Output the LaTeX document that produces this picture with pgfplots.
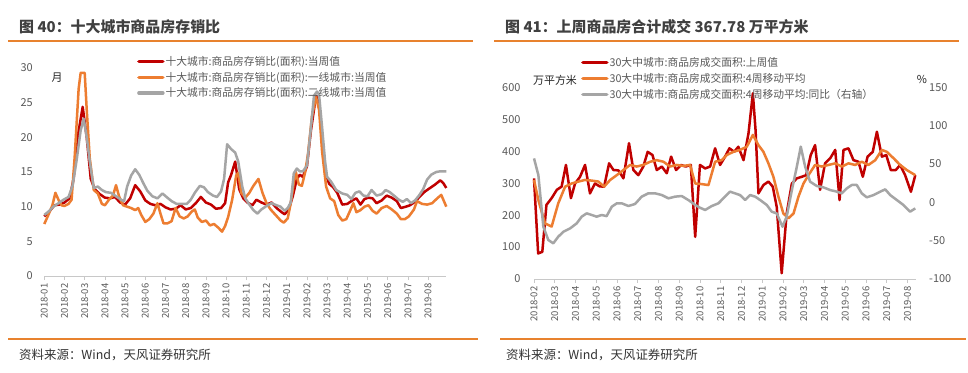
\documentclass[border=0pt]{standalone}
\usepackage{pgfplots}
\pgfplotsset{compat=1.18}
\usepackage{fontspec}
\setmainfont{Noto Sans CJK SC}
\definecolor{cred}{HTML}{C00000}
\definecolor{corange}{HTML}{ED7D31}
\definecolor{cgray}{HTML}{A5A5A5}
\definecolor{ctext}{HTML}{595959}
\definecolor{ctitle}{HTML}{404040}
\definecolor{cline}{HTML}{E8822E}
\definecolor{caxis}{HTML}{C8C8C8}
\pgfplotsset{
  base/.style={
    scale only axis, anchor=south west,
    axis x line*=bottom, axis y line*=left,
    y axis line style={draw=none},
    x axis line style={draw=caxis, line width=0.8bp},
    xtick style={draw=caxis, line width=0.8bp},
    ytick style={draw=none},
    major tick length=4bp, tick align=outside,
    x tick label style={rotate=90, anchor=east, font=\fontsize{9.5}{10}\selectfont, color=ctext},
    y tick label style={font=\fontsize{11}{11}\selectfont, color=ctext},
    /pgf/number format/assume math mode=true,
    /pgf/number format/1000 sep={},
    clip=false,
    legend cell align=left,
    legend style={draw=none, fill=none, inner sep=0pt, anchor=north west,
      font=\fontsize{10.8}{12}\selectfont, text=ctext, row sep=3.2bp,
      nodes={inner sep=1bp}},
    legend image code/.code={\draw[##1, line width=3.4bp, line cap=round] (0bp,0bp) -- (24bp,0bp);},
  },
  ser/.style={line width=2.5bp, line join=round, mark=none},
}
\begin{document}
\begin{tikzpicture}
\path[use as bounding box, fill=white] (0bp,0bp) rectangle (968bp,373bp);
% titles
\node[anchor=west, inner sep=0, text=ctitle, font=\fontsize{15}{15}\selectfont\bfseries] at (19bp,346bp) {图 40：十大城市商品房存销比};
\node[anchor=west, inner sep=0, text=ctitle, font=\fontsize{15}{15}\selectfont\bfseries] at (505bp,346bp) {图 41：上周商品房合计成交 367.78 万平方米};
\draw[cline, line width=2.2bp] (8bp,332bp) -- (473bp,332bp);
\draw[cline, line width=2.2bp] (494bp,332bp) -- (959bp,332bp);
\draw[cline, line width=2.2bp] (8bp,34bp) -- (478bp,34bp);
\draw[cline, line width=2.2bp] (500bp,34bp) -- (966bp,34bp);
\node[anchor=west, inner sep=0, text=black!80, font=\fontsize{12.5}{13}\selectfont] at (19bp,18bp) {资料来源：Wind，天风证券研究所};
\node[anchor=west, inner sep=0, text=black!80, font=\fontsize{12.5}{13}\selectfont] at (506bp,18bp) {资料来源：Wind，天风证券研究所};
% ---------------- left chart
\begin{axis}[base,
  at={(44.3bp,97bp)}, width=402bp, height=208bp,
  xmin=0, xmax=19.9, ymin=0, ymax=30,
  xtick={0,...,19},
  xticklabels={2018-01,2018-02,2018-03,2018-04,2018-05,2018-06,2018-07,2018-08,2018-09,2018-10,2018-11,2018-12,2019-01,2019-02,2019-03,2019-04,2019-05,2019-06,2019-07,2019-08},
  ytick={0,5,...,30},
  y tick label style={xshift=-4bp},
  legend style={at={(rel axis cs:0.2306,1.063)}},
]
\addplot[ser, cred] coordinates {(0,8.6) (0.25,9.3) (0.5,10.2) (0.75,10.3) (1.0,10.6) (1.25,11.2) (1.45,14) (1.65,20) (1.9,24.4) (2.1,20) (2.3,14) (2.5,12.5) (2.75,11.8) (3.0,11.3) (3.25,11.2) (3.5,11.4) (3.75,10.6) (4.0,10.3) (4.25,11.2) (4.5,13.1) (4.75,12.2) (5.0,10.9) (5.25,10.4) (5.5,10.2) (5.75,10.4) (6.0,9.9) (6.25,9.6) (6.5,9.7) (6.75,10.2) (7.0,9.6) (7.25,9.8) (7.5,10.5) (7.75,11.4) (8.0,10.6) (8.25,10.3) (8.5,9.7) (8.75,9.8) (8.95,10.5) (9.1,13.5) (9.25,14.6) (9.45,16.5) (9.65,12.5) (9.85,11.2) (10.05,10.6) (10.3,10.2) (10.5,11.0) (10.75,10.6) (11.0,10.3) (11.25,10.6) (11.5,9.8) (11.75,9.2) (11.9,8.9) (12.1,9.6) (12.3,11.5) (12.5,14) (12.65,14.6) (12.8,14.3) (13.0,15.8) (13.2,21) (13.45,26) (13.6,25) (13.75,20) (13.9,15) (14.1,13.3) (14.3,12.8) (14.5,12.0) (14.75,10.3) (15.0,10.4) (15.25,10.9) (15.45,11.2) (15.65,10.3) (15.85,11.1) (16.05,11.3) (16.25,11.2) (16.45,10.5) (16.7,10.9) (16.95,11.6) (17.2,11.3) (17.45,10.8) (17.65,9.8) (17.9,10.0) (18.1,10.2) (18.35,10.7) (18.6,11.5) (18.85,12.2) (19.1,12.7) (19.35,13.2) (19.6,13.8) (19.75,13.4) (19.9,12.7)};
\addlegendentry{十大城市:商品房存销比(面积):当周值}
\addplot[ser, corange] coordinates {(0,7.5) (0.2,8.8) (0.4,10.2) (0.55,12.0) (0.7,11.0) (0.85,10.2) (1.0,10.1) (1.2,10.4) (1.35,11) (1.5,17) (1.7,27) (1.8,29.3) (2.0,29.3) (2.1,24) (2.25,17) (2.45,12.4) (2.65,11.9) (2.85,10.4) (3.0,10.2) (3.2,11.0) (3.4,11.6) (3.55,13.1) (3.7,11.5) (3.9,10.2) (4.1,10.0) (4.3,9.8) (4.5,9.5) (4.65,9.8) (4.8,8.8) (5.0,7.8) (5.2,8.2) (5.4,9.0) (5.6,10.5) (5.75,9.0) (5.9,7.6) (6.1,7.6) (6.3,7.9) (6.5,9.8) (6.7,8.6) (6.9,8.3) (7.1,8.6) (7.3,9.3) (7.45,9.6) (7.6,8.4) (7.8,7.8) (8.0,8.0) (8.2,7.3) (8.4,7.5) (8.6,7.0) (8.8,6.4) (8.95,7.2) (9.1,8.5) (9.3,11.0) (9.5,14.5) (9.6,14.9) (9.75,12.0) (9.95,11.3) (10.15,12.0) (10.35,13.0) (10.6,14.0) (10.8,12.0) (11.0,10.5) (11.2,9.6) (11.45,8.8) (11.7,8.0) (11.85,7.7) (12.05,8.3) (12.2,10.5) (12.35,13.5) (12.45,15.0) (12.6,13.2) (12.75,13.0) (12.9,14.8) (13.05,17.5) (13.25,23) (13.45,25.8) (13.6,24) (13.75,18) (13.95,12.9) (14.15,11.2) (14.35,10.8) (14.55,8.8) (14.75,8.0) (14.95,8.2) (15.15,9.5) (15.3,10.5) (15.45,9.2) (15.65,9.5) (15.85,10.0) (16.05,10.2) (16.25,9.4) (16.45,9.0) (16.7,9.8) (16.95,10.1) (17.2,9.6) (17.45,9.0) (17.65,8.2) (17.85,8.2) (18.05,8.6) (18.3,9.6) (18.45,10.8) (18.7,10.4) (18.95,10.3) (19.2,10.5) (19.45,11.2) (19.65,11.7) (19.9,10.0)};
\addlegendentry{十大城市:商品房存销比(面积):一线城市:当周值}
\addplot[ser, cgray] coordinates {(0,8.8) (0.25,9.4) (0.45,10.0) (0.7,10.5) (0.95,11.0) (1.2,11.4) (1.4,13) (1.6,16.7) (1.8,21) (1.95,22.7) (2.1,20) (2.25,16.5) (2.45,12.7) (2.65,12.9) (2.85,12.4) (3.05,12.1) (3.3,12.0) (3.55,11.5) (3.8,11.0) (3.95,10.8) (4.1,12.9) (4.3,14.5) (4.5,15.4) (4.7,14.6) (4.9,13.4) (5.1,12.3) (5.35,11.5) (5.6,11.2) (5.85,11.9) (6.05,11.4) (6.3,10.8) (6.55,10.4) (6.8,10.4) (7.05,10.4) (7.25,11.0) (7.45,12.0) (7.7,13.0) (7.9,12.8) (8.1,12.1) (8.35,11.6) (8.55,11.4) (8.75,12.2) (8.9,14) (9.05,19.0) (9.25,18.3) (9.45,17.8) (9.6,16.5) (9.8,12.9) (9.95,11.2) (10.15,10.3) (10.35,9.5) (10.55,9.0) (10.75,9.6) (11.0,10.1) (11.25,10.5) (11.5,10.2) (11.7,10.0) (11.9,9.4) (12.05,9.8) (12.2,10.6) (12.35,14.8) (12.5,15.5) (12.65,15.1) (12.8,15.1) (13.0,15.9) (13.15,20) (13.35,26) (13.5,26.6) (13.6,26.2) (13.75,21.5) (13.9,16.5) (14.0,14.3) (14.2,13.6) (14.45,12.4) (14.75,11.9) (15.0,11.7) (15.2,11.1) (15.4,12.0) (15.6,12.2) (15.8,11.6) (16.0,11.5) (16.2,12.4) (16.45,11.6) (16.7,11.8) (16.9,12.4) (17.1,12.1) (17.35,11.5) (17.55,11.0) (17.75,10.7) (17.95,11.1) (18.15,10.5) (18.35,10.9) (18.55,11.6) (18.75,12.5) (18.95,13.9) (19.15,14.6) (19.4,15.0) (19.6,15.1) (19.9,15.1)};
\addlegendentry{十大城市:商品房存销比(面积):二线城市:当周值}
\end{axis}
\node[anchor=center, inner sep=0, text=black!85, font=\fontsize{11}{11}\selectfont] at (57bp,295.5bp) {月};
% ---------------- right chart
\begin{axis}[base,
  at={(534bp,94bp)}, width=381.7bp, height=191.7bp,
  xmin=0, xmax=18.4, ymin=0, ymax=600,
  xtick={0,...,18},
  xticklabels={2018-02,2018-03,2018-04,2018-05,2018-06,2018-07,2018-08,2018-09,2018-10,2018-11,2018-12,2019-01,2019-02,2019-03,2019-04,2019-05,2019-06,2019-07,2019-08},
  ytick={0,100,...,600},
  y tick label style={xshift=-6bp},
  legend style={at={(rel axis cs:0.123,1.162)}},
]
\addplot[ser, cred] coordinates {(0,315) (0.2,80) (0.4,85) (0.6,232) (0.85,253) (1.1,279) (1.33,289) (1.54,357) (1.78,253) (1.98,299) (2.22,320) (2.46,357) (2.7,268) (2.94,299) (3.16,290) (3.38,289) (3.62,362) (3.83,341) (4.07,340) (4.31,315) (4.58,425) (4.79,341) (5.03,325) (5.27,352) (5.48,398) (5.71,388) (5.92,341) (6.16,352) (6.4,331) (6.61,383) (6.85,341) (7.09,357) (7.31,352) (7.56,357) (7.77,132) (8.0,357) (8.25,346) (8.49,352) (8.73,409) (8.97,357) (9.21,383) (9.42,409) (9.65,398) (9.85,414) (10.1,372) (10.34,456) (10.55,581) (10.68,466) (10.82,268) (11.06,294) (11.3,305) (11.51,289) (11.7,226) (11.94,18) (12.18,205) (12.43,299) (12.67,315) (12.91,320) (13.12,325) (13.34,388) (13.55,419) (13.79,279) (14.03,362) (14.28,378) (14.52,404) (14.73,247) (14.92,404) (15.16,409) (15.4,372) (15.64,367) (15.85,320) (16.08,383) (16.33,398) (16.53,461) (16.77,383) (16.98,388) (17.2,341) (17.44,341) (17.65,357) (17.89,325) (18.17,273) (18.38,325)};
\addlegendentry{30大中城市:商品房成交面积:上周值}
\addplot[ser, corange] coordinates {(0,310) (0.21,247) (0.53,174) (0.85,164) (1.17,237) (1.5,289) (1.82,299) (2.14,305) (2.46,310) (2.78,308) (3.1,305) (3.38,289) (3.67,310) (3.99,325) (4.31,341) (4.63,357) (4.95,352) (5.27,357) (5.6,367) (5.92,372) (6.24,367) (6.56,352) (6.88,357) (7.2,354) (7.52,357) (7.77,299) (8.09,297) (8.41,294) (8.73,367) (9.05,372) (9.29,388) (9.61,398) (9.93,404) (10.26,414) (10.55,451) (10.82,419) (11.06,398) (11.3,362) (11.54,320) (11.78,258) (12.02,205) (12.27,190) (12.51,205) (12.75,258) (12.99,299) (13.23,325) (13.55,357) (13.87,352) (14.2,357) (14.52,362) (14.84,352) (15.16,362) (15.48,357) (15.8,367) (16.12,357) (16.45,372) (16.77,404) (17.01,398) (17.33,378) (17.65,357) (17.97,341) (18.38,325)};
\addlegendentry{30大中城市:商品房成交面积:4周移动平均}
\addlegendimage{ser, cgray}
\addlegendentry{30大中城市:商品房成交面积:4周移动平均:同比（右轴）}
\end{axis}
\begin{axis}[base,
  at={(534bp,94bp)}, width=381.7bp, height=191.7bp,
  xmin=0, xmax=18.4, ymin=-100, ymax=150,
  axis y line*=right, axis x line=none,
  ytick={-100,-50,...,150},
  y tick label style={xshift=6bp},
]
\addplot[ser, cgray] coordinates {(0,57.3) (0.21,35.6) (0.45,-31.8) (0.69,-49.2) (0.93,-53.5) (1.17,-44.8) (1.42,-38.3) (1.74,-34) (2.06,-27.4) (2.3,-18.7) (2.54,-14.4) (2.78,-16.5) (3.02,-18.7) (3.26,-16.5) (3.5,-18) (3.75,-5.7) (3.99,-1.3) (4.25,-1.5) (4.55,-4.8) (4.87,-2.2) (5.19,7.4) (5.51,11.7) (5.84,11.7) (6.16,9.5) (6.48,5.2) (6.8,7.4) (7.12,8.2) (7.44,3) (7.77,-3.5) (8.0,-7) (8.25,-10) (8.57,-4.8) (8.89,-1.3) (9.21,7.4) (9.45,13.9) (9.69,11.7) (9.93,9.5) (10.18,3) (10.42,9.5) (10.66,7.4) (10.9,3) (11.22,-3.5) (11.46,-12.2) (11.7,-14.4) (11.98,-31.8) (12.18,-18.7) (12.43,16) (12.67,46.5) (12.86,72.6) (13.07,46.5) (13.31,26.9) (13.63,21.3) (13.95,19.5) (14.28,16) (14.6,13.9) (14.84,11.7) (15.08,18.2) (15.32,22.6) (15.56,22.6) (15.8,11.7) (16.04,6.5) (16.37,9.5) (16.69,13.9) (16.93,16.9) (17.17,9.5) (17.49,3) (17.81,-3.5) (18.13,-12.2) (18.38,-7.9)};
\end{axis}
\node[anchor=center, inner sep=0, text=black!85, font=\fontsize{11}{11}\selectfont] at (555bp,293bp) {万平方米};
\node[anchor=center, inner sep=0, text=black!85, font=\fontsize{11}{11}\selectfont] at (922bp,294bp) {\%};
\end{tikzpicture}
\end{document}
